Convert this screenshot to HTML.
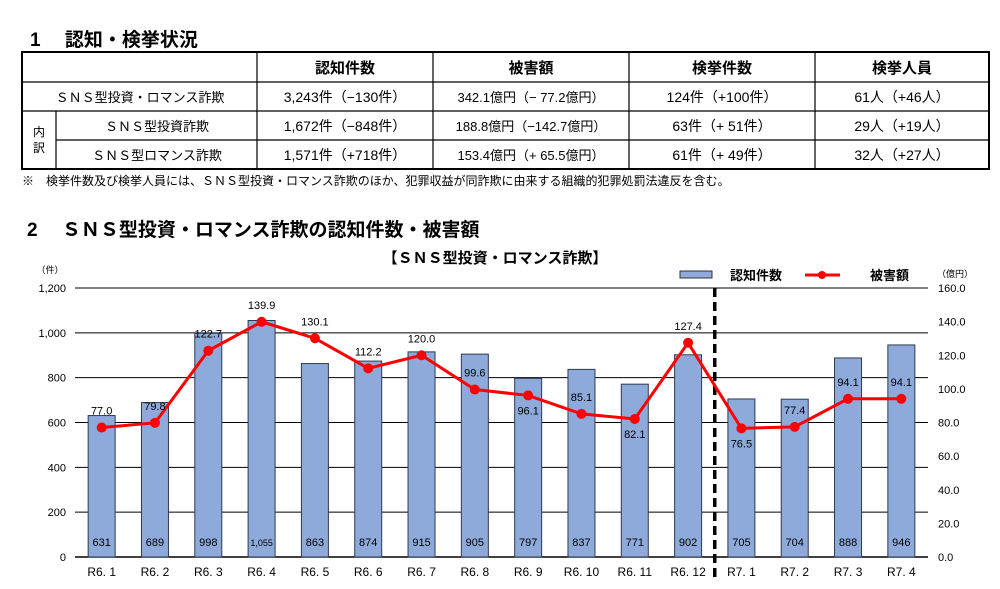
<!DOCTYPE html>
<html><head><meta charset="utf-8"><style>
body{margin:0;background:#fff;}
svg{display:block;font-family:"Liberation Sans","Noto Sans CJK JP",sans-serif;}
</style></head><body>
<svg id="s" width="1000" height="589" viewBox="0 0 1000 589">
<text x="30" y="46" font-size="19" font-weight="bold">1　 認知・検挙状況</text>
<g stroke="#000" fill="none">
<rect x="22" y="52" width="967" height="117" stroke-width="2"/>
<line x1="22" y1="82" x2="989" y2="82" stroke-width="1.2"/>
<line x1="22" y1="111" x2="989" y2="111" stroke-width="1.2"/>
<line x1="56" y1="140" x2="989" y2="140" stroke-width="1.2"/>
<line x1="56" y1="111" x2="56" y2="169" stroke-width="1.2"/>
<line x1="257" y1="52" x2="257" y2="169" stroke-width="1.2"/>
<line x1="433" y1="52" x2="433" y2="169" stroke-width="1.2"/>
<line x1="629" y1="52" x2="629" y2="169" stroke-width="1.2"/>
<line x1="815" y1="52" x2="815" y2="169" stroke-width="1.2"/>
</g>
<g font-size="14" text-anchor="middle">
<text x="345" y="73" font-weight="bold" font-size="15">認知件数</text>
<text x="531" y="73" font-weight="bold" font-size="15">被害額</text>
<text x="722" y="73" font-weight="bold" font-size="15">検挙件数</text>
<text x="902" y="73" font-weight="bold" font-size="15">検挙人員</text>
<text x="140" y="102" font-size="13">ＳＮＳ型投資・ロマンス詐欺</text>
<text x="157" y="131" font-size="13">ＳＮＳ型投資詐欺</text>
<text x="157" y="160" font-size="13">ＳＮＳ型ロマンス詐欺</text>
<text x="39" y="136" font-size="12">内</text>
<text x="39" y="152" font-size="12">訳</text>
<text x="345" y="102">3,243件（−130件）</text>
<text x="345" y="131">1,672件（−848件）</text>
<text x="345" y="160">1,571件（+718件）</text>
<text x="531" y="102" font-size="13">342.1億円（− 77.2億円）</text>
<text x="531" y="131" font-size="13">188.8億円（−142.7億円）</text>
<text x="531" y="160" font-size="13">153.4億円（+ 65.5億円）</text>
<text x="722" y="102">124件（+100件）</text>
<text x="722" y="131">63件（+ 51件）</text>
<text x="722" y="160">61件（+ 49件）</text>
<text x="902" y="102">61人（+46人）</text>
<text x="902" y="131">29人（+19人）</text>
<text x="902" y="160">32人（+27人）</text>
</g>
<text x="22" y="185" font-size="12">※　検挙件数及び検挙人員には、ＳＮＳ型投資・ロマンス詐欺のほか、犯罪収益が同詐欺に由来する組織的犯罪処罰法違反を含む。</text>
<text x="27" y="236" font-size="19" font-weight="bold">2　 ＳＮＳ型投資・ロマンス詐欺の認知件数・被害額</text>
<text x="495" y="263" font-size="15" font-weight="bold" text-anchor="middle">【ＳＮＳ型投資・ロマンス詐欺】</text>
<g>
<rect x="680" y="271" width="32" height="7" fill="#8eaadb" stroke="#333"/>
<text x="730" y="280" font-size="13" font-weight="bold">認知件数</text>
<line x1="805" y1="275" x2="840" y2="275" stroke="#f00" stroke-width="3"/>
<circle cx="822" cy="275" r="4" fill="#f00"/>
<text x="870" y="280" font-size="13" font-weight="bold">被害額</text>
</g>
<text x="50" y="273" font-size="9" text-anchor="middle">（件）</text>
<text x="955" y="277" font-size="9" text-anchor="middle">（億円）</text>
<g id="chart"></g>
</svg>
<script>
const categories=["R6. 1","R6. 2","R6. 3","R6. 4","R6. 5","R6. 6","R6. 7","R6. 8","R6. 9","R6. 10","R6. 11","R6. 12","R7. 1","R7. 2","R7. 3","R7. 4"];
const counts=[631,689,998,1055,863,874,915,905,797,837,771,902,705,704,888,946];
const countLabels=["631","689","998","1,055","863","874","915","905","797","837","771","902","705","704","888","946"];
const damage=[77.0,79.8,122.7,139.9,130.1,112.2,120.0,99.6,96.1,85.1,82.1,127.4,76.5,77.4,94.1,94.1];
const damageBelow=[0,0,0,0,0,0,0,0,1,0,1,0,1,0,0,0];
const leftTicks=[0,200,400,600,800,1000,1200];
const leftTickLabels=["0","200","400","600","800","1,000","1,200"];
const rightTicks=[0,20,40,60,80,100,120,140,160];
const dividerAfter=11;

const NS="http://www.w3.org/2000/svg";
const g=document.getElementById('chart');
const X0=75,X1=928,Y0=557,Y1=288;
const step=(X1-X0)/categories.length;
const xc=i=>X0+(i+0.5)*step;
const yL=v=>Y0-(v/1200)*(Y0-Y1);
const yR=v=>Y0-(v/160)*(Y0-Y1);
function mk(t,a,txt){const e=document.createElementNS(NS,t);for(const k in a)e.setAttribute(k,a[k]);if(txt!==undefined)e.textContent=txt;g.appendChild(e);return e;}
leftTicks.forEach((v,i)=>{
  const l=mk('line',{x1:X0,x2:X1,y1:yL(v),y2:yL(v),stroke:'#000','stroke-width':v===0?1.5:1});
  
  
  const t=mk('text',{x:66,y:yL(v)+4,'font-size':11,'text-anchor':'end'},leftTickLabels[i]);
  
  
});
rightTicks.forEach(v=>{
  const t=mk('text',{x:938,y:yR(v)+4,'font-size':11},v.toFixed(1));
  
  
});
const bw=27;
counts.forEach((v,i)=>{
  const r=mk('rect',{x:xc(i)-bw/2,y:yL(v),width:bw,height:Y0-yL(v),fill:'#8eaadb',stroke:'#2f3a4f','stroke-width':1});
  
  
  const t=mk('text',{x:xc(i),y:Y0-11,'font-size':countLabels[i].length>3?9:11,'text-anchor':'middle'},countLabels[i]);
  
  
  const c=mk('text',{x:xc(i),y:576,'font-size':12,'text-anchor':'middle'},categories[i]);
  
  
});
const dx=(xc(dividerAfter)+xc(dividerAfter+1))/2;
const dl=mk('line',{x1:dx,x2:dx,y1:Y1,y2:580,stroke:'#000','stroke-width':3.5,'stroke-dasharray':'9,5'});


const pl=mk('polyline',{points:damage.map((v,i)=>xc(i)+','+yR(v)).join(' '),fill:'none',stroke:'#f00','stroke-width':3});


damage.forEach((v,i)=>{
  const c=mk('circle',{cx:xc(i),cy:yR(v),r:5,fill:'#f00'});
  
  
  const t=mk('text',{x:xc(i),y:yR(v)+(damageBelow[i]?19:-13),'font-size':11,'text-anchor':'middle'},v.toFixed(1));
  
  
});
</script>
</body></html>
